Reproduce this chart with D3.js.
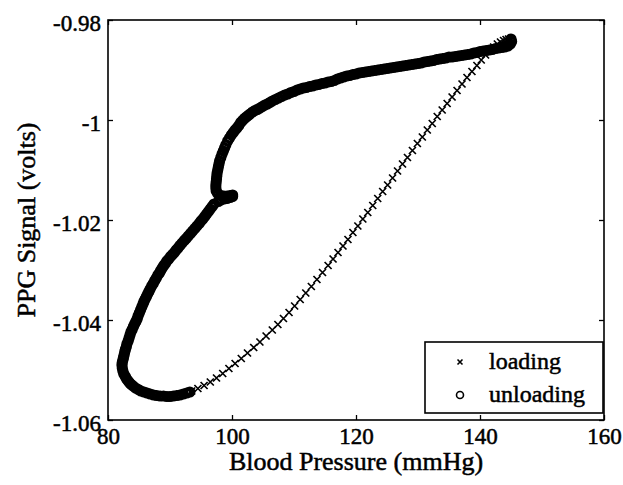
<!DOCTYPE html>
<html>
<head>
<meta charset="utf-8">
<script src="https://cdn.jsdelivr.net/npm/d3@7"></script>
<style>
	body { margin: 0; background: #fff; }
	text { font-family: 'Liberation Serif', 'Times New Roman', serif; fill: #000; stroke: #000; stroke-width: 0.5px; }
</style>
</head>
<body>
<div id="chart"></div>
<script>
'use strict';

var xTicks = [80, 100, 120, 140, 160];
var yTicks = [-0.98, -1, -1.02, -1.04, -1.06];
var yTickLabels = ['-0.98', '-1', '-1.02', '-1.04', '-1.06'];
var seriesNames = ['loading', 'unloading'];

// [blood pressure (mmHg), PPG signal (volts)]
var loading = [
	[88.6, -1.0551], [89.5, -1.0552], [90.5, -1.0551], [91.5, -1.0549], [92.5, -1.0546],
	[93.5, -1.0542], [94.5, -1.0537], [95.5, -1.0531], [96.5, -1.0524], [97.5, -1.0516],
	[98.5, -1.0507], [99.5, -1.0497], [100.5, -1.0487], [101.5, -1.0477], [102.5, -1.0466],
	[103.5, -1.0455], [104.5, -1.0444], [105.5, -1.0432], [106.5, -1.0420], [107.4, -1.0409],
	[108.3, -1.0397], [109.2, -1.0385], [110.1, -1.0372], [111.0, -1.0359], [111.9, -1.0346],
	[112.8, -1.0333], [113.7, -1.0319], [114.6, -1.0305], [115.5, -1.0291], [116.3, -1.0278],
	[117.1, -1.0265], [117.9, -1.0252], [118.7, -1.0239], [119.5, -1.0225], [120.3, -1.0212],
	[121.1, -1.0198], [121.9, -1.0185], [122.7, -1.0171], [123.5, -1.0157], [124.3, -1.0143],
	[125.1, -1.0130], [125.9, -1.0116], [126.7, -1.0102], [127.5, -1.0088], [128.3, -1.0075],
	[129.1, -1.0061], [129.9, -1.0047], [130.7, -1.0034], [131.5, -1.0020], [132.3, -1.0007],
	[133.1, -0.9993], [133.9, -0.9980], [134.7, -0.9967], [135.5, -0.9954], [136.3, -0.9941],
	[137.1, -0.9928], [137.9, -0.9915], [138.7, -0.9903], [139.5, -0.9891], [140.2, -0.9880],
	[140.9, -0.9870], [141.6, -0.9861], [142.2, -0.9854], [142.8, -0.9848], [143.3, -0.9844],
	[143.8, -0.9841], [144.2, -0.9839], [144.6, -0.9838]
];

var unloading = [
	[145.0, -0.9838], [145.1, -0.9843], [144.9, -0.9848], [144.5, -0.9852],
	[144.0, -0.9854], [143.5, -0.9855], [143.0, -0.9856], [142.5, -0.9857], [142.0, -0.9859],
	[141.5, -0.9860], [141.0, -0.9861], [140.5, -0.9862], [140.0, -0.9863], [139.5, -0.9865],
	[139.0, -0.9866], [138.5, -0.9868], [138.0, -0.9869], [137.5, -0.9870], [137.0, -0.9871],
	[136.5, -0.9872], [136.0, -0.9873], [135.5, -0.9874], [135.0, -0.9874], [134.5, -0.9876],
	[134.0, -0.9877], [133.5, -0.9878], [133.0, -0.9879], [132.5, -0.9881], [132.0, -0.9882],
	[131.5, -0.9883], [131.0, -0.9884], [130.5, -0.9886], [130.0, -0.9887], [129.5, -0.9888],
	[129.0, -0.9889], [128.5, -0.9890], [128.0, -0.9891], [127.5, -0.9892], [127.0, -0.9893],
	[126.5, -0.9894], [126.0, -0.9895], [125.5, -0.9896], [125.0, -0.9897], [124.5, -0.9898],
	[124.0, -0.9899], [123.5, -0.9900], [123.0, -0.9901], [122.5, -0.9902], [122.0, -0.9903],
	[121.5, -0.9904], [121.0, -0.9905], [120.5, -0.9906], [120.0, -0.9908], [119.5, -0.9909],
	[119.0, -0.9911], [118.5, -0.9912], [118.0, -0.9914], [117.5, -0.9916], [117.0, -0.9918],
	[116.5, -0.9921], [116.0, -0.9923], [115.5, -0.9924], [115.0, -0.9926], [114.5, -0.9927],
	[114.0, -0.9929], [113.5, -0.9930], [113.0, -0.9932], [112.5, -0.9933], [112.0, -0.9935],
	[111.5, -0.9936], [111.0, -0.9938], [110.5, -0.9940], [110.0, -0.9943], [109.5, -0.9945],
	[109.0, -0.9948], [108.5, -0.9950], [108.0, -0.9953], [107.5, -0.9956], [107.0, -0.9959],
	[106.5, -0.9962], [106.1, -0.9965], [105.7, -0.9968], [105.3, -0.9970], [104.9, -0.9973],
	[104.5, -0.9976], [104.1, -0.9979], [103.7, -0.9981], [103.3, -0.9984], [102.9, -0.9988],
	[102.6, -0.9991], [102.3, -0.9994], [102.0, -0.9997], [101.7, -1.0001], [101.4, -1.0005],
	[101.1, -1.0011], [100.8, -1.0016], [100.5, -1.0020], [100.2, -1.0025], [99.9, -1.0030],
	[99.6, -1.0036], [99.3, -1.0042], [99.0, -1.0050], [98.8, -1.0056], [98.6, -1.0062],
	[98.4, -1.0068], [98.2, -1.0075], [98.0, -1.0082], [97.9, -1.0088], [97.8, -1.0094],
	[97.7, -1.0100], [97.6, -1.0106], [97.55, -1.0112], [97.5, -1.0118], [97.45, -1.0124],
	[97.4, -1.0130], [97.4, -1.0136], [97.45, -1.0142], [97.7, -1.0147], [98.2, -1.0151],
	[98.7, -1.0152], [99.2, -1.0152], [99.7, -1.0151], [100.1, -1.0150], [100.1, -1.0153],
	[99.7, -1.0155], [99.2, -1.0157], [98.7, -1.0158], [98.2, -1.0160], [97.8, -1.0163],
	[97.1, -1.0168], [96.8, -1.0173], [96.5, -1.0178], [96.2, -1.0183], [95.9, -1.0188],
	[95.6, -1.0193], [95.3, -1.0198], [95.0, -1.0202], [94.7, -1.0207], [94.35, -1.0212],
	[94.0, -1.0217], [93.65, -1.0222], [93.3, -1.0227], [92.95, -1.0232], [92.6, -1.0237],
	[92.3, -1.0241], [91.95, -1.0246], [91.6, -1.0251], [91.3, -1.0256], [91.0, -1.0260],
	[90.7, -1.0265], [90.4, -1.0269], [90.1, -1.0273], [89.8, -1.0278], [89.5, -1.0282],
	[89.25, -1.0287], [89.0, -1.0291], [88.75, -1.0296], [88.5, -1.0301], [88.3, -1.0306],
	[88.05, -1.0310], [87.8, -1.0316], [87.55, -1.0321], [87.3, -1.0327], [87.05, -1.0332],
	[86.8, -1.0338], [86.6, -1.0343], [86.4, -1.0348], [86.2, -1.0353], [86.0, -1.0358],
	[85.8, -1.0363], [85.65, -1.0368], [85.45, -1.0374], [85.25, -1.0380], [85.05, -1.0386],
	[84.85, -1.0392], [84.7, -1.0398], [84.5, -1.0403], [84.3, -1.0408], [84.1, -1.0413],
	[83.9, -1.0419], [83.7, -1.0424], [83.55, -1.0430], [83.4, -1.0436], [83.25, -1.0442],
	[83.05, -1.0448], [82.95, -1.0454], [82.8, -1.0459], [82.7, -1.0464], [82.6, -1.0470],
	[82.5, -1.0475], [82.4, -1.0480], [82.3, -1.0485], [82.25, -1.0490], [82.3, -1.0496],
	[82.4, -1.0502], [82.55, -1.0508], [82.8, -1.0513], [83.0, -1.0518], [83.25, -1.0522],
	[83.5, -1.0526], [83.75, -1.0529], [84.05, -1.0532], [84.45, -1.0536], [84.9, -1.0539],
	[85.3, -1.0542], [85.8, -1.0544], [86.3, -1.0546], [86.8, -1.0548], [87.35, -1.0550],
	[87.85, -1.0551], [88.4, -1.0552], [88.95, -1.0552], [89.5, -1.0553], [90.0, -1.0553],
	[90.55, -1.0552], [91.1, -1.0551], [91.6, -1.0550], [92.15, -1.0548], [92.7, -1.0546],
	[93.2, -1.0544]
];

var margin = {top: 20, right: 19, bottom: 65, left: 108};
var width = 623 - margin.left - margin.right;
var height = 485 - margin.top - margin.bottom;

var svg = d3.select('#chart')
	.append('svg')
	.attr('width', 623)
	.attr('height', 485);

var g = svg.append('g')
	.attr('transform', 'translate(' + margin.left + ',' + margin.top + ')');

var x = d3.scaleLinear().domain([80, 160]).range([0, width]);
var y = d3.scaleLinear().domain([-1.06, -0.98]).range([height, 0]);

function styleAxis(sel) {
	sel.select('.domain').remove();
	sel.selectAll('line').attr('stroke', '#000').attr('stroke-width', 1.3);
	sel.selectAll('text').style('font-size', '23px').attr('fill', '#000');
}

// ticks point inward on all four sides, like matlab
g.append('g')
	.attr('transform', 'translate(0,' + height + ')')
	.call(d3.axisBottom(x).tickValues(xTicks).tickSizeInner(-5).tickSizeOuter(0).tickPadding(8).tickFormat(d3.format('d')))
	.call(styleAxis);

g.append('g')
	.call(d3.axisTop(x).tickValues(xTicks).tickSizeInner(-5).tickSizeOuter(0).tickFormat(''))
	.call(styleAxis);

g.append('g')
	.call(d3.axisLeft(y).tickValues(yTicks).tickSizeInner(-5).tickSizeOuter(0).tickPadding(7)
		.tickFormat(function (d, i) { return yTickLabels[i]; }))
	.call(styleAxis)
	.selectAll('text').attr('dy', '0.45em');

g.append('g')
	.attr('transform', 'translate(' + width + ',0)')
	.call(d3.axisRight(y).tickValues(yTicks).tickSizeInner(-5).tickSizeOuter(0).tickFormat(''))
	.call(styleAxis);

g.append('rect')
	.attr('width', width)
	.attr('height', height)
	.attr('fill', 'none')
	.attr('stroke', '#000')
	.attr('stroke-width', 1.6);

var crossPath = 'M-3.5,-3.5L3.5,3.5M-3.5,3.5L3.5,-3.5';

g.append('g')
	.selectAll('path')
	.data(loading)
	.enter()
	.append('path')
	.attr('d', crossPath)
	.attr('transform', function (d) { return 'translate(' + x(d[0]) + ',' + y(d[1]) + ')'; })
	.attr('stroke', '#000')
	.attr('stroke-width', 1.7)
	.attr('fill', 'none');

// the circles overlap so much they read as one thick band
g.append('g')
	.selectAll('circle')
	.data(unloading)
	.enter()
	.append('circle')
	.attr('cx', function (d) { return x(d[0]); })
	.attr('cy', function (d) { return y(d[1]); })
	.attr('r', 4)
	.attr('fill', 'none')
	.attr('stroke', '#000')
	.attr('stroke-width', 3.2);

// legend, lower right corner
var legend = g.append('g')
	.attr('transform', 'translate(' + (width - 179) + ',' + (height - 78) + ')');

legend.append('rect')
	.attr('width', 178)
	.attr('height', 71)
	.attr('fill', '#fff')
	.attr('stroke', '#000')
	.attr('stroke-width', 1.6);

var items = legend.selectAll('.item')
	.data(seriesNames)
	.enter()
	.append('g')
	.attr('class', 'item')
	.attr('transform', function (d, i) { return 'translate(0,' + (20 + i * 33) + ')'; });

items.filter(function (d, i) { return i === 0; })
	.append('path')
	.attr('d', 'M-2.5,-2.5L2.5,2.5M-2.5,2.5L2.5,-2.5')
	.attr('transform', 'translate(35,0)')
	.attr('stroke', '#000')
	.attr('stroke-width', 1.6);

items.filter(function (d, i) { return i === 1; })
	.append('circle')
	.attr('cx', 35)
	.attr('r', 3.5)
	.attr('fill', 'none')
	.attr('stroke', '#000')
	.attr('stroke-width', 1.6);

items.append('text')
	.attr('x', 64)
	.attr('y', 7)
	.style('font-size', '24px')
	.text(function (d) { return d; });

// axis titles
svg.append('text')
	.attr('x', margin.left + width / 2)
	.attr('y', 470)
	.attr('text-anchor', 'middle')
	.style('font-size', '26px')
	.text('Blood Pressure (mmHg)');

svg.append('text')
	.attr('transform', 'translate(35,' + (margin.top + height / 2) + ') rotate(-90)')
	.attr('text-anchor', 'middle')
	.style('font-size', '26px')
	.text('PPG Signal (volts)');
</script>
</body>
</html>
